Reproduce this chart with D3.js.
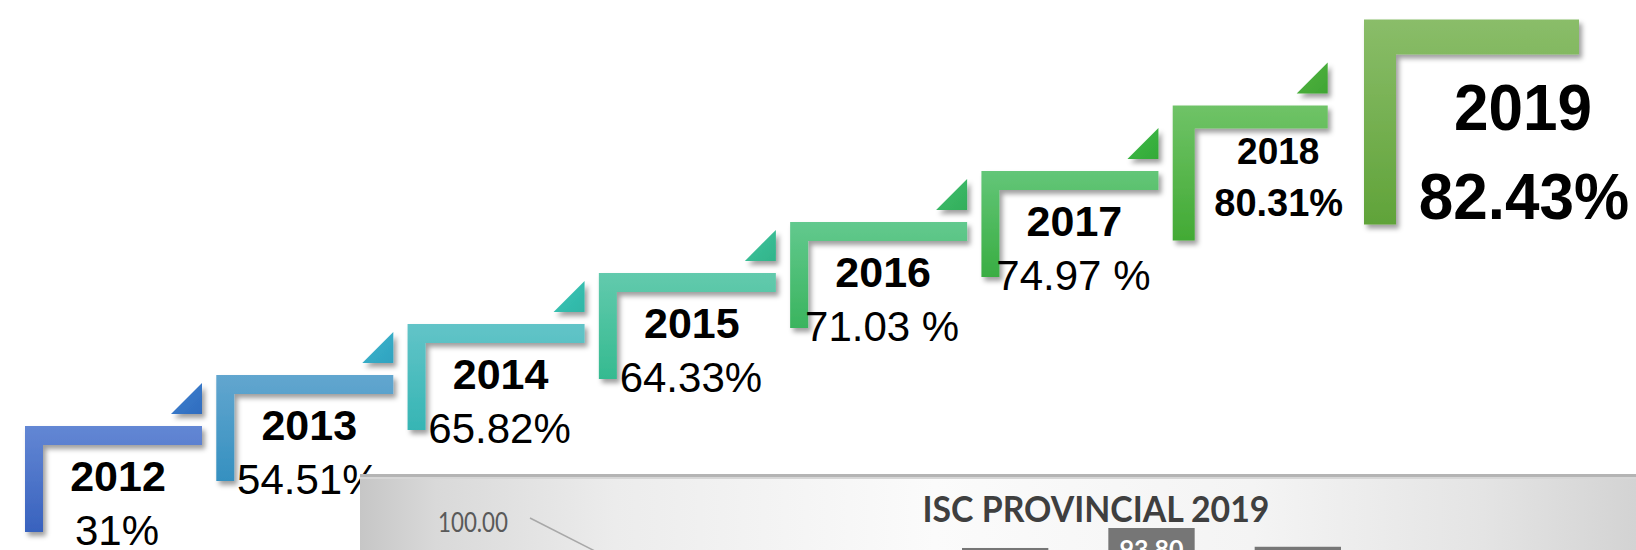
<!DOCTYPE html>
<html><head><meta charset="utf-8">
<script src="https://cdn.jsdelivr.net/npm/d3@7"></script>
<style>
html,body{margin:0;padding:0;background:#fff;overflow:hidden}
svg{display:block}
</style></head><body>
<svg id="chart" width="1636" height="550"></svg>
<script>
// ---------- data ----------
const years = ["2012","2013","2014","2015","2016","2017","2018","2019"];
const values = [31, 54.51, 65.82, 64.33, 71.03, 74.97, 80.31, 82.43];
const valueLabels = ["31%","54.51%","65.82%","64.33%","71.03 %","74.97 %","80.31%","82.43%"];

// partially visible chart pasted at the bottom
const iscTitle = "ISC PROVINCIAL 2019";
const iscTicks = [100];
const iscCategories = ["A","B","C"];
const iscValues = [90.5, 93.80, 90.7];

// ---------- styles ----------
const stepColors = [
  ["#6387d4","#3862be"],["#62a6cf","#3590c0"],["#62c4c8","#36b5b4"],["#62caad","#35ba90"],
  ["#62c98e","#3ab45e"],["#63c678","#39ad42"],["#6fc367","#42aa34"],["#8abd69","#60a339"]
];
const triColors = [
  ["#3f82cf","#2f6cbf"],["#3db6cc","#2fa2c0"],["#3cc6b8","#2fb6a6"],["#3fc49e","#31b48a"],
  ["#3fbf70","#33ae5a"],["#3fba48","#33aa38"],["#50b440","#40a534"],null
];
const emphasis = ["n","n","n","n","n","n","m","l"];
const sizeStyles = {
  n:{w:177,h:106,th:19,tv:18,yearFont:43,valFont:42,valWeight:"normal",yearDx:93,yearDy:65,valDx:92,valDy:119,tri:31,sx:1},
  m:{w:155,h:135,th:23,tv:22,yearFont:37,valFont:38,valWeight:"bold",yearDx:105.5,yearDy:58.5,valDx:106,valDy:110.5,tri:31,sx:1},
  l:{w:215,h:205,th:35,tv:32,yearFont:64,valFont:64,valWeight:"bold",yearDx:159,yearDy:110.5,valDx:160,valDy:199.5,tri:0,sx:0.97}
};

const svg = d3.select("#chart");
const defs = svg.append("defs");

const f = defs.append("filter").attr("id","shadow").attr("x","-20%").attr("y","-20%").attr("width","150%").attr("height","150%");
f.append("feDropShadow").attr("dx",3).attr("dy",4).attr("stdDeviation",2.5)
  .attr("flood-color","#000").attr("flood-opacity",0.38);

years.forEach((y,i)=>{
  const g = defs.append("linearGradient").attr("id","sg"+i).attr("x1",0).attr("y1",0).attr("x2",0).attr("y2",1);
  g.append("stop").attr("offset","0%").attr("stop-color",stepColors[i][0]);
  g.append("stop").attr("offset","100%").attr("stop-color",stepColors[i][1]);
  if(triColors[i]){
    const t = defs.append("linearGradient").attr("id","tg"+i).attr("x1",0).attr("y1",0).attr("x2",1).attr("y2",1);
    t.append("stop").attr("offset","0%").attr("stop-color",triColors[i][0]);
    t.append("stop").attr("offset","100%").attr("stop-color",triColors[i][1]);
  }
});

// ---------- scales ----------
const x = d3.scalePoint().domain(years).range([25,1364]);
const yc = d3.scalePoint().domain(years).range([479,122]);

const steps = svg.append("g").selectAll("g.step").data(years).join("g").attr("class","step");

steps.each(function(yr,i){
  const s = sizeStyles[emphasis[i]];
  const L = x(yr), T = yc(yr) - s.h/2;
  const g = d3.select(this);
  if(s.tri>0 && triColors[i]){
    const R = L + s.w, B = T - 12;
    g.append("path")
      .attr("d",`M${R},${B-s.tri}L${R},${B}L${R-s.tri},${B}Z`)
      .attr("fill",`url(#tg${i})`).attr("filter","url(#shadow)");
  }
  const p = d3.path();
  p.moveTo(L,T); p.lineTo(L+s.w,T); p.lineTo(L+s.w,T+s.th); p.lineTo(L+s.tv,T+s.th);
  p.lineTo(L+s.tv,T+s.h); p.lineTo(L,T+s.h); p.closePath();
  g.append("path").attr("d",p.toString()).attr("fill",`url(#sg${i})`).attr("filter","url(#shadow)");

  g.append("text")
    .attr("transform",`translate(${L+s.yearDx},${T+s.yearDy}) scale(${s.sx},1)`)
    .attr("text-anchor","middle")
    .attr("font-family","'Liberation Sans', Arial, sans-serif")
    .attr("font-weight","bold").attr("font-size",s.yearFont).attr("fill","#000")
    .text(yr);
  g.append("text")
    .attr("transform",`translate(${L+s.valDx},${T+s.valDy}) scale(${s.sx},1)`)
    .attr("text-anchor","middle")
    .attr("font-family","'Liberation Sans', Arial, sans-serif")
    .attr("font-weight",s.valWeight).attr("font-size",s.valFont).attr("fill","#000")
    .text(valueLabels[i]);
});

// ---------- overlay chart (cut off at the bottom) ----------
const ovX0 = 360, ovY0 = 474, ovW = 1636-360;
const og = defs.append("linearGradient").attr("id","ovg").attr("x1",0).attr("y1",0).attr("x2",1).attr("y2",0);
[["0%","#c6c6c6"],["6%","#d9d9d9"],["20%","#ececec"],["45%","#fbfbfb"],["70%","#f4f4f4"],["88%","#e4e4e4"],["100%","#d3d3d3"]]
  .forEach(d=>og.append("stop").attr("offset",d[0]).attr("stop-color",d[1]));
const ov = svg.append("g");
ov.append("rect").attr("x",ovX0).attr("y",ovY0).attr("width",ovW).attr("height",550-ovY0).attr("fill","url(#ovg)");
ov.append("rect").attr("x",ovX0).attr("y",ovY0).attr("width",ovW).attr("height",3).attr("fill","#b4b4b4");
ov.append("rect").attr("x",ovX0).attr("y",ovY0+3).attr("width",ovW).attr("height",2).attr("fill","#d6d6d6");

const oy = d3.scaleLinear().domain([80,100]).range([640,519]);
const ox = d3.scaleBand().domain(iscCategories).range([932,1371]).paddingInner(0.41).paddingOuter(0.205);

ov.selectAll("text.tick").data(iscTicks).join("text").attr("class","tick")
  .attr("x",508).attr("y",d=>oy(d)+13).attr("text-anchor","end")
  .attr("font-family","Lato, 'Open Sans', sans-serif").attr("font-size",26).attr("fill","#595959")
  .attr("textLength",70).attr("lengthAdjust","spacingAndGlyphs")
  .text(d=>d.toFixed(2));

ov.append("line").attr("x1",530).attr("y1",518).attr("x2",640).attr("y2",574)
  .attr("stroke","#a8a8a8").attr("stroke-width",1.5);

ov.append("text").attr("x",1096).attr("y",522).attr("text-anchor","middle")
  .attr("font-family","Lato, 'Open Sans', sans-serif").attr("font-weight","bold")
  .attr("font-size",37).attr("fill","#3f3f3f")
  .attr("textLength",347).attr("lengthAdjust","spacingAndGlyphs")
  .text(iscTitle);

ov.selectAll("rect.lbl").data(iscValues).join("rect").attr("class","lbl")
  .attr("x",(d,i)=>ox(iscCategories[i])).attr("y",d=>oy(d)-28.5)
  .attr("width",ox.bandwidth()).attr("height",60).attr("fill","#767676");
ov.selectAll("text.lbl").data(iscValues).join("text").attr("class","lbl")
  .attr("x",(d,i)=>ox(iscCategories[i])+ox.bandwidth()/2).attr("y",d=>oy(d)-28.5+30)
  .attr("text-anchor","middle").attr("font-family","Lato, sans-serif").attr("font-weight","bold")
  .attr("font-size",25).attr("fill","#ffffff").text(d=>d.toFixed(2));
</script>
</body></html>
